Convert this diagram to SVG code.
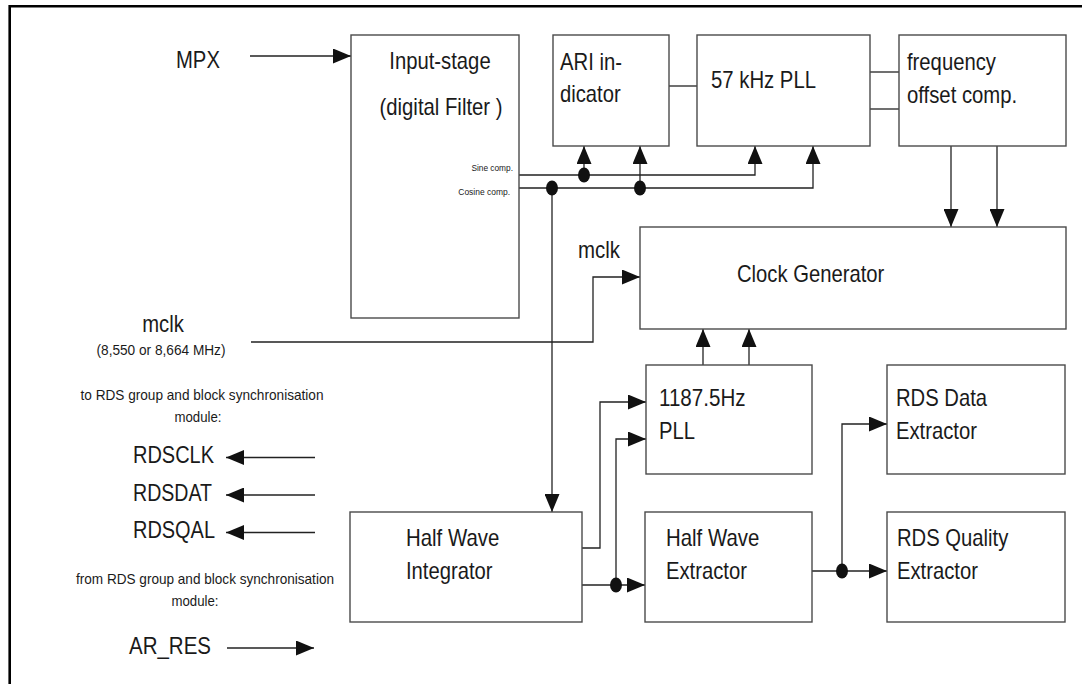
<svg xmlns="http://www.w3.org/2000/svg" width="1082" height="684" viewBox="0 0 1082 684">
<defs>
<style>
.box{fill:#fff;stroke:#4a4a4a;stroke-width:1.4}
.ln{fill:none;stroke:#222;stroke-width:1.3}
.arr{marker-end:url(#ah)}
.t{font-family:"Liberation Sans",Arial,sans-serif;font-size:24px;fill:#1a1a1a}
.s{font-family:"Liberation Sans",Arial,sans-serif;font-size:15px;fill:#1a1a1a}
.xs{font-family:"Liberation Sans",Arial,sans-serif;font-size:9.5px;fill:#1a1a1a}
.dot{fill:#111}
</style>
<marker id="ah" markerUnits="userSpaceOnUse" markerWidth="18" markerHeight="15" refX="18" refY="7.5" orient="auto">
<path d="M0,0 L18,7.5 L0,15 Z" fill="#111"/>
</marker>
</defs>
<rect width="1082" height="684" fill="#fff"/>
<path d="M9.7,684 V6.2 H1082" fill="none" stroke="#000" stroke-width="2.6"/>

<g id="connectors">
<path class="ln arr" d="M250,56 H351"/>
<path class="ln" d="M669,86 H697"/>
<path class="ln" d="M870,72 H899"/>
<path class="ln" d="M870,109 H899"/>
<path class="ln arr" d="M519,175 H755 V146"/>
<path class="ln arr" d="M519,188 H813 V146"/>
<path class="ln arr" d="M584,175 V146"/>
<path class="ln arr" d="M640,188 V146"/>
<path class="ln arr" d="M552,188 V512"/>
<path class="ln arr" d="M951,146 V227"/>
<path class="ln arr" d="M997,146 V227"/>
<path class="ln arr" d="M251,342 H593 V277 H640"/>
<path class="ln arr" d="M703,365 V329"/>
<path class="ln arr" d="M749,365 V329"/>
<path class="ln arr" d="M582,548 H600 V402 H646"/>
<path class="ln arr" d="M582,585 H645"/>
<path class="ln arr" d="M616,585 V439 H646"/>
<path class="ln arr" d="M812,571 H887"/>
<path class="ln arr" d="M842,571 V424 H887"/>
<path class="ln arr" d="M315,457.5 H226"/>
<path class="ln arr" d="M315,495 H226"/>
<path class="ln arr" d="M315,532.5 H226"/>
<path class="ln arr" d="M227,648 H314"/>
<ellipse class="dot" cx="584" cy="175" rx="6" ry="7.5"/>
<ellipse class="dot" cx="552" cy="188" rx="6" ry="7.5"/>
<ellipse class="dot" cx="640" cy="188" rx="6" ry="7.5"/>
<ellipse class="dot" cx="616" cy="585" rx="6" ry="7.5"/>
<ellipse class="dot" cx="842" cy="571" rx="6" ry="7.5"/>
</g>

<g id="labels">
<text class="t" x="176" y="68" textLength="43.9" lengthAdjust="spacingAndGlyphs">MPX</text>
<text class="t" x="163" y="332" text-anchor="middle" textLength="41.6" lengthAdjust="spacingAndGlyphs">mclk</text>
<text class="s" x="161" y="355" text-anchor="middle" textLength="129" lengthAdjust="spacingAndGlyphs">(8,550 or 8,664 MHz)</text>
<text class="s" x="202" y="400" text-anchor="middle" textLength="243" lengthAdjust="spacingAndGlyphs">to RDS group and block synchronisation</text>
<text class="s" x="198" y="422" text-anchor="middle" textLength="47" lengthAdjust="spacingAndGlyphs">module:</text>
<text class="t" x="133" y="463" textLength="81" lengthAdjust="spacingAndGlyphs">RDSCLK</text>
<text class="t" x="133" y="501" textLength="79" lengthAdjust="spacingAndGlyphs">RDSDAT</text>
<text class="t" x="133" y="538" textLength="82" lengthAdjust="spacingAndGlyphs">RDSQAL</text>
<text class="s" x="205" y="584" text-anchor="middle" textLength="258" lengthAdjust="spacingAndGlyphs">from RDS group and block synchronisation</text>
<text class="s" x="195" y="606" text-anchor="middle" textLength="47" lengthAdjust="spacingAndGlyphs">module:</text>
<text class="t" x="129" y="654" textLength="82" lengthAdjust="spacingAndGlyphs">AR_RES</text>
<text class="t" x="578" y="258" textLength="42" lengthAdjust="spacingAndGlyphs">mclk</text>
</g>

<g id="input-stage">
<rect class="box" x="351" y="35" width="168" height="283"/>
<text class="t" x="440" y="69" text-anchor="middle" textLength="101.3" lengthAdjust="spacingAndGlyphs">Input-stage</text>
<text class="t" x="441" y="115" text-anchor="middle" textLength="123" lengthAdjust="spacingAndGlyphs">(digital Filter )</text>
<text class="xs" x="513" y="170.5" text-anchor="end" textLength="41.6" lengthAdjust="spacingAndGlyphs">Sine comp.</text>
<text class="xs" x="510" y="195" text-anchor="end" textLength="51.7" lengthAdjust="spacingAndGlyphs">Cosine comp.</text>
</g>

<g id="ari-indicator">
<rect class="box" x="553" y="35" width="116" height="111"/>
<text class="t" x="560" y="70" textLength="61.9" lengthAdjust="spacingAndGlyphs">ARI in-</text>
<text class="t" x="560" y="102" textLength="60.7" lengthAdjust="spacingAndGlyphs">dicator</text>
</g>

<g id="pll-57khz">
<rect class="box" x="697" y="35" width="173" height="111"/>
<text class="t" x="711" y="88" textLength="105" lengthAdjust="spacingAndGlyphs">57 kHz PLL</text>
</g>

<g id="frequency-offset">
<rect class="box" x="899" y="35" width="167" height="111"/>
<text class="t" x="907" y="70" textLength="88.9" lengthAdjust="spacingAndGlyphs">frequency</text>
<text class="t" x="907" y="103" textLength="110.2" lengthAdjust="spacingAndGlyphs">offset comp.</text>
</g>

<g id="clock-generator">
<rect class="box" x="640" y="227" width="426" height="102"/>
<text class="t" x="737" y="282" textLength="147.3" lengthAdjust="spacingAndGlyphs">Clock Generator</text>
</g>

<g id="pll-1187">
<rect class="box" x="646" y="365" width="166" height="109"/>
<text class="t" x="659" y="406" textLength="86.6" lengthAdjust="spacingAndGlyphs">1187.5Hz</text>
<text class="t" x="659" y="439" textLength="36" lengthAdjust="spacingAndGlyphs">PLL</text>
</g>

<g id="rds-data-extractor">
<rect class="box" x="887" y="365" width="178" height="109"/>
<text class="t" x="896" y="406" textLength="91.1" lengthAdjust="spacingAndGlyphs">RDS Data</text>
<text class="t" x="896" y="439" textLength="81" lengthAdjust="spacingAndGlyphs">Extractor</text>
</g>

<g id="half-wave-integrator">
<rect class="box" x="350" y="512" width="232" height="110"/>
<text class="t" x="406" y="546" textLength="93.3" lengthAdjust="spacingAndGlyphs">Half Wave</text>
<text class="t" x="406" y="579" textLength="86.6" lengthAdjust="spacingAndGlyphs">Integrator</text>
</g>

<g id="half-wave-extractor">
<rect class="box" x="645" y="512" width="167" height="110"/>
<text class="t" x="666" y="546" textLength="93.3" lengthAdjust="spacingAndGlyphs">Half Wave</text>
<text class="t" x="666" y="579" textLength="81" lengthAdjust="spacingAndGlyphs">Extractor</text>
</g>

<g id="rds-quality-extractor">
<rect class="box" x="887" y="512" width="178" height="110"/>
<text class="t" x="897" y="546" textLength="111.3" lengthAdjust="spacingAndGlyphs">RDS Quality</text>
<text class="t" x="897" y="579" textLength="81" lengthAdjust="spacingAndGlyphs">Extractor</text>
</g>
</svg>
